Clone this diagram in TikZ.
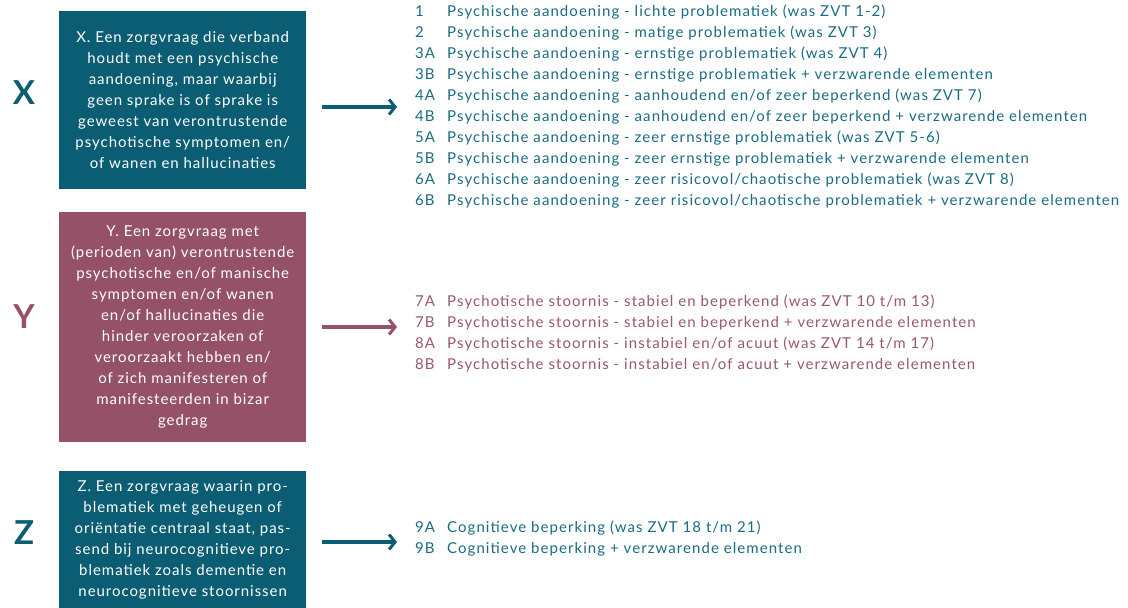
\documentclass[tikz,border=0pt]{standalone}
\usepackage{fontspec}
\setmainfont{Lato}
\newfontfamily\wide[LetterSpace=6.4]{Lato}
\newfontfamily\wider[LetterSpace=7.1]{Lato}
\usetikzlibrary{arrows.meta}
\definecolor{cTeal}{HTML}{0B5D73}
\definecolor{cTealText}{HTML}{1A6B82}
\definecolor{cMauve}{HTML}{945168}
\definecolor{cMauveText}{HTML}{9A5670}
\begin{document}
\begin{tikzpicture}[x=1pt,y=-1pt,
  box/.style={fill=#1, text=white, minimum width=247pt, inner sep=0pt, align=center,
    anchor=north west, font=\wide\fontsize{15}{21}\selectfont},
  letter/.style={text=#1, font=\fontsize{33}{33}\selectfont\bfseries},
  item/.style={text=#1, anchor=base west, inner sep=0pt, font=\wider\fontsize{15}{18}\selectfont},
  arr/.style={draw=#1, line width=3.2pt, -{Straight Barb[length=6pt,width=15pt,line width=3pt]}}
]
\useasboundingbox (0,0) rectangle (1128,608);

% letters
\node[letter=cTeal] (lx) at (24,93) {X};
\node[letter=cMauve] (ly) at (24,317) {Y};
\node[letter=cTeal] (lz) at (24,533) {Z};

% boxes
\node[box=cTeal, minimum height=178pt] (bx) at (59,11) {X. Een zorgvraag die verband\\houdt met een psychische\\aandoening, maar waarbij\\geen sprake is of sprake is\\geweest van verontrustende\\psychotische symptomen en/\\of wanen en hallucinaties};
\node[box=cMauve, minimum height=230pt] (by) at (59,212) {Y. Een zorgvraag met\\(perioden van) verontrustende\\psychotische en/of manische\\symptomen en/of wanen\\en/of hallucinaties die\\hinder veroorzaken of\\veroorzaakt hebben en/\\of zich manifesteren of\\manifesteerden in bizar\\gedrag};
\node[box=cTeal, minimum height=137pt] (bz) at (59,471) {Z. Een zorgvraag waarin pro-\\blematiek met geheugen of\\oriëntatie centraal staat, pas-\\send bij neurocognitieve pro-\\blematiek zoals dementie en\\neurocognitieve stoornissen};

% X list
\foreach \c/\t [count=\i from 0] in {
  1/{Psychische aandoening - lichte problematiek (was ZVT 1-2)},
  2/{Psychische aandoening - matige problematiek (was ZVT 3)},
  3A/{Psychische aandoening - ernstige problematiek (was ZVT 4)},
  3B/{Psychische aandoening - ernstige problematiek + verzwarende elementen},
  4A/{Psychische aandoening - aanhoudend en/of zeer beperkend (was ZVT 7)},
  4B/{Psychische aandoening - aanhoudend en/of zeer beperkend + verzwarende elementen},
  5A/{Psychische aandoening - zeer ernstige problematiek (was ZVT 5-6)},
  5B/{Psychische aandoening - zeer ernstige problematiek + verzwarende elementen},
  6A/{Psychische aandoening - zeer risicovol/chaotische problematiek (was ZVT 8)},
  6B/{Psychische aandoening - zeer risicovol/chaotische problematiek + verzwarende elementen}}
{
  \node[item=cTealText] (xc\i) at (415,{16+21*\i}) {\c};
  \node[item=cTealText] (xt\i) at (447,{16+21*\i}) {\t};
}

% Y list
\foreach \c/\t [count=\i from 0] in {
  7A/{Psychotische stoornis - stabiel en beperkend (was ZVT 10 t/m 13)},
  7B/{Psychotische stoornis - stabiel en beperkend + verzwarende elementen},
  8A/{Psychotische stoornis - instabiel en/of acuut (was ZVT 14 t/m 17)},
  8B/{Psychotische stoornis - instabiel en/of acuut + verzwarende elementen}}
{
  \node[item=cMauveText] (yc\i) at (415,{306+21.2*\i}) {\c};
  \node[item=cMauveText] (yt\i) at (447,{306+21.2*\i}) {\t};
}

% Z list
\foreach \c/\t [count=\i from 0] in {
  9A/{Cognitieve beperking (was ZVT 18 t/m 21)},
  9B/{Cognitieve beperking + verzwarende elementen}}
{
  \node[item=cTealText] (zc\i) at (415,{532+21.5*\i}) {\c};
  \node[item=cTealText] (zt\i) at (447,{532+21.5*\i}) {\t};
}

% arrows
\coordinate (ax0) at (322,107);
\coordinate (ax1) at (397,107);
\coordinate (ay0) at (322,327);
\coordinate (ay1) at (397,327);
\coordinate (az0) at (322,542);
\coordinate (az1) at (397,542);
\draw[arr=cTeal] (ax0) -- (ax1);
\draw[arr=cMauve] (ay0) -- (ay1);
\draw[arr=cTeal] (az0) -- (az1);
\end{tikzpicture}
\end{document}
